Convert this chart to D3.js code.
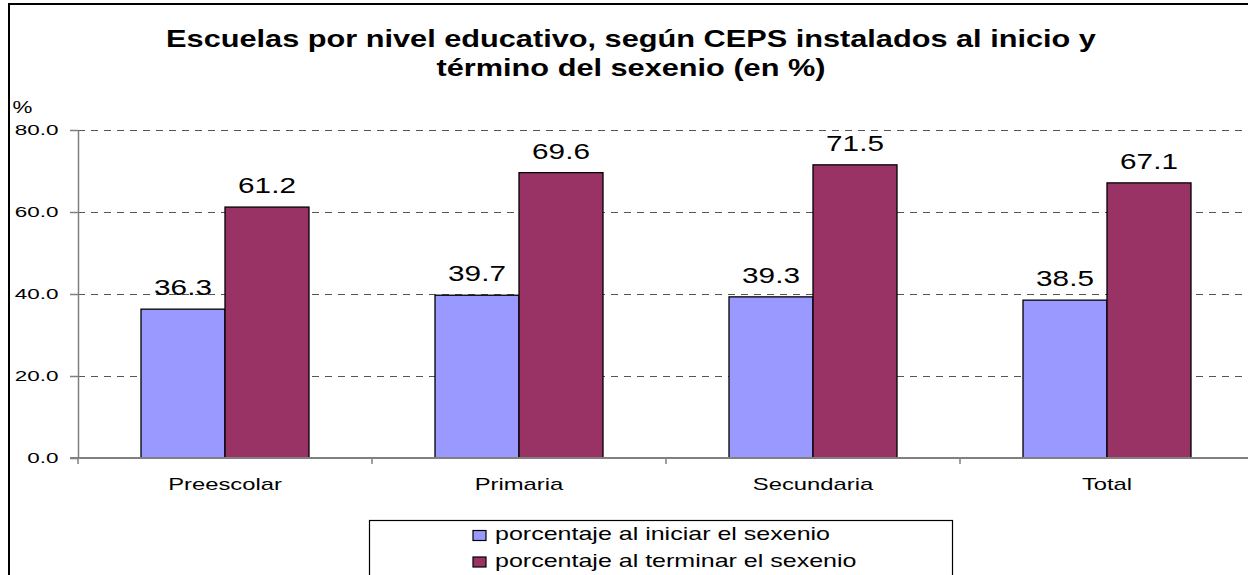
<!DOCTYPE html>
<html>
<head>
<meta charset="utf-8">
<script src="https://cdn.jsdelivr.net/npm/d3@7"></script>
<style>
  html, body { margin: 0; padding: 0; background: #fff; }
  svg { display: block; }
  text { font-family: "Liberation Sans", Arial, sans-serif; fill: #000; }
</style>
</head>
<body>
<svg id="chart" width="1248" height="575"></svg>
<script>
const categories = ["Preescolar", "Primaria", "Secundaria", "Total"];
const inicio = [36.3, 39.7, 39.3, 38.5];
const termino = [61.2, 69.6, 71.5, 67.1];
const seriesNames = ["porcentaje al iniciar el sexenio", "porcentaje al terminar el sexenio"];
const seriesColors = ["#9999FF", "#993366"];
const yTicks = [0, 20, 40, 60, 80];
const titleLines = ["Escuelas por nivel educativo, según CEPS instalados al inicio y", "término del sexenio (en %)"];
const yUnit = "%";

const svg = d3.select("#chart");
const W = 1248, H = 575;

// outer frame (cropped on right/bottom)
svg.append("rect").attr("x", 9).attr("y", 4).attr("width", 1400).attr("height", 800)
  .attr("fill", "#fff").attr("stroke", "#000").attr("stroke-width", 2);

const plotLeft = 78, plotRight = 1254, y0 = 458, yTop = 130;
const x = d3.scaleBand().domain(categories).range([plotLeft, plotRight])
  .paddingInner(0.4286).paddingOuter(0.2143);
const xs = d3.scaleBand().domain([0, 1]).range([0, x.bandwidth()]);
const y = d3.scaleLinear().domain([0, 80]).range([y0, yTop]);

// gridlines
svg.append("g").selectAll("line").data(yTicks.filter(d => d > 0)).join("line")
  .attr("x1", plotLeft).attr("x2", W).attr("y1", d => y(d) + 0.5).attr("y2", d => y(d) + 0.5)
  .attr("stroke", "#555").attr("stroke-width", 1).attr("stroke-dasharray", "7,6");

// bars
const data = categories.map((c, i) => ({c, vals: [inicio[i], termino[i]]}));
const groups = svg.append("g").selectAll("g").data(data).join("g")
  .attr("transform", d => `translate(${x(d.c)},0)`);
groups.selectAll("rect").data(d => d.vals.map((v, k) => ({v, k}))).join("rect")
  .attr("x", d => xs(d.k)).attr("width", xs.bandwidth())
  .attr("y", d => y(d.v)).attr("height", d => y(0) - y(d.v))
  .attr("fill", d => seriesColors[d.k]).attr("stroke", "#000").attr("stroke-width", 1.3);

// value labels
const valSX = 1.35;
groups.selectAll("text.val").data(d => d.vals.map((v, k) => ({v, k}))).join("text")
  .attr("class", "val")
  .attr("transform", d => `translate(${xs(d.k) + xs.bandwidth() / 2},${y(d.v) - 14}) scale(${valSX},1)`)
  .attr("text-anchor", "middle").attr("font-size", 22)
  .text(d => d.v.toFixed(1));

// y axis
const tickSX = 1.45;
const yAxis = svg.append("g").attr("transform", `translate(${plotLeft},0)`)
  .call(d3.axisLeft(y).tickValues(yTicks).tickSize(8).tickSizeOuter(0).tickFormat(d3.format(".1f")));
yAxis.select(".domain").attr("stroke", "#808080").attr("stroke-width", 1.5);
yAxis.selectAll(".tick line").attr("stroke", "#808080").attr("stroke-width", 1.5);
yAxis.selectAll(".tick text")
  .attr("x", -19.5 / tickSX).attr("transform", `scale(${tickSX},1)`)
  .attr("font-size", 15.5).attr("font-family", "Liberation Sans, Arial, sans-serif").attr("fill", "#000");

// x axis line
svg.append("line").attr("x1", 70).attr("x2", W).attr("y1", y0).attr("y2", y0)
  .attr("stroke", "#808080").attr("stroke-width", 2);
// category boundary ticks
const bounds = categories.map(c => x(c) - x.step() * x.paddingInner() / 2);
svg.append("g").selectAll("line").data(bounds).join("line")
  .attr("x1", d => d).attr("x2", d => d).attr("y1", y0).attr("y2", y0 + 6)
  .attr("stroke", "#808080").attr("stroke-width", 1.5);
// category labels
const catSX = 1.4;
const xAxis = svg.append("g").attr("transform", `translate(0,${y0})`)
  .call(d3.axisBottom(x).tickSize(0).tickPadding(0));
xAxis.select(".domain").remove();
xAxis.selectAll(".tick text")
  .attr("y", 32).attr("dy", 0).attr("transform", `scale(${catSX},1)`)
  .attr("font-size", 17).attr("font-family", "Liberation Sans, Arial, sans-serif").attr("fill", "#000");
xAxis.selectAll(".tick").attr("transform", d => `translate(${x(d) + x.bandwidth() / 2},0)`);

// unit label
svg.append("text").attr("transform", `translate(12.5,113) scale(1.4,1)`)
  .attr("font-size", 16).text(yUnit);

// title
const titleSX = 1.28;
svg.append("g").selectAll("text").data(titleLines).join("text")
  .attr("transform", (d, i) => `translate(631,${47 + i * 29}) scale(${titleSX},1)`)
  .attr("text-anchor", "middle").attr("font-size", 24).attr("font-weight", "bold")
  .text(d => d);

// legend
const legSX = 1.43;
svg.append("rect").attr("x", 369.5).attr("y", 520.5).attr("width", 583).attr("height", 120)
  .attr("fill", "#fff").attr("stroke", "#000").attr("stroke-width", 1.2);
const leg = svg.append("g").selectAll("g").data(seriesNames).join("g")
  .attr("transform", (d, i) => `translate(473,${530.5 + i * 26.5})`);
leg.append("rect").attr("width", 13).attr("height", 10)
  .attr("fill", (d, i) => seriesColors[i]).attr("stroke", "#000").attr("stroke-width", 1.2);
leg.append("text").attr("transform", `translate(22,9.5) scale(${legSX},1)`)
  .attr("font-size", 17.5).text(d => d);
</script>
</body>
</html>
